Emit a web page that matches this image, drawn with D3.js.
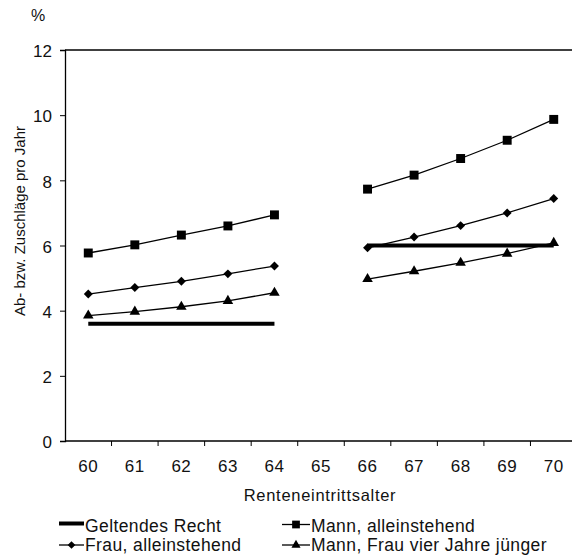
<!DOCTYPE html>
<html lang="de">
<head>
  <meta charset="UTF-8" />
  <title>Ab- bzw. Zuschläge pro Jahr</title>
  <script src="https://d3js.org/d3.v7.min.js"></script>
  <style>
    body { margin: 0; background: #fff; }
    svg { display: block; font-family: 'Liberation Sans', Arial, sans-serif; }
    .lbl { fill: #111; }
  </style>
</head>
<body>
<svg width="572" height="556"></svg>
<script>
// Renteneintrittsalter (category axis)
const ages = ["60", "61", "62", "63", "64", "65", "66", "67", "68", "69", "70"];
const yTicks = [0, 2, 4, 6, 8, 10, 12];

// left segment ages 60-64, right segment 66-70
const leftAges = ["60", "61", "62", "63", "64"];
const rightAges = ["66", "67", "68", "69", "70"];

const geltendLeft = [3.6, 3.6, 3.6, 3.6, 3.6];
const geltendRight = [6.0, 6.0, 6.0, 6.0, 6.0];
const mannLeft = [5.77, 6.02, 6.32, 6.6, 6.94];
const mannRight = [7.73, 8.16, 8.67, 9.23, 9.87];
const frauLeft = [4.51, 4.71, 4.9, 5.13, 5.37];
const frauRight = [5.93, 6.26, 6.61, 7.0, 7.44];
const paarLeft = [3.85, 3.97, 4.12, 4.3, 4.55];
const paarRight = [4.97, 5.21, 5.47, 5.75, 6.08];

const svg = d3.select("svg");
const pL = 65, pT = 50, pB = 441, pR = 577;

const x = d3.scaleBand().domain(ages).range([pL, pR]);
const cx = a => x(a) + x.bandwidth() / 2;
const y = d3.scaleLinear().domain([0, 12]).range([pB, pT]);

// frame: top line + axes
svg.append("line")
  .attr("x1", pL).attr("x2", 572)
  .attr("y1", pT).attr("y2", pT)
  .attr("stroke", "#000").attr("stroke-width", 1.3);

const yAxis = svg.append("g")
  .attr("transform", `translate(${pL},0)`)
  .call(d3.axisLeft(y).tickValues(yTicks).tickSize(5).tickPadding(8));
yAxis.attr("font-size", 17).attr("font-family", null);
yAxis.select(".domain").attr("stroke-width", 1.3);
yAxis.selectAll(".tick text").attr("fill", "#111").attr("dy", "0.4em");

const xAxis = svg.append("g")
  .attr("transform", `translate(0,${pB})`)
  .call(d3.axisBottom(x).tickSize(0).tickPadding(19));
xAxis.attr("font-size", 17).attr("font-family", null);
xAxis.selectAll(".tick text").attr("fill", "#111").attr("letter-spacing", "0.5px");
xAxis.select(".domain").attr("d", `M${pL},0H${pR}`).attr("stroke-width", 1.3);
// tick marks at category boundaries
xAxis.selectAll("line.sep")
  .data(ages)
  .enter().append("line")
  .attr("class", "sep")
  .attr("x1", d => x(d) + x.bandwidth())
  .attr("x2", d => x(d) + x.bandwidth())
  .attr("y1", 0).attr("y2", 5)
  .attr("stroke", "#000");

// labels
svg.append("text").attr("class", "lbl").attr("x", 31).attr("y", 21)
  .style("font-size", "16px").text("%");
svg.append("text").attr("class", "lbl")
  .attr("transform", `translate(25,221) rotate(-90)`)
  .style("font-size", "15px")
  .attr("text-anchor", "middle").text("Ab- bzw. Zuschläge pro Jahr");
svg.append("text").attr("class", "lbl")
  .attr("x", 320).attr("y", 501)
  .style("font-size", "16.5px").style("letter-spacing", "0.7px")
  .attr("text-anchor", "middle").text("Renteneintrittsalter");

const line = d3.line().x(d => cx(d[0])).y(d => y(d[1]));
const zip = (a, v) => a.map((k, i) => [k, v[i]]);

const markers = {
  square: { type: d3.symbolSquare, size: 80, rot: 0 },
  diamond: { type: d3.symbolSquare, size: 40, rot: 45 },
  triangle: { type: d3.symbolTriangle, size: 48, rot: 0 }
};
const symPath = (m, scale) => d3.symbol().type(m.type).size(m.size * scale)();

function series(vals, m, width) {
  [zip(leftAges, vals[0]), zip(rightAges, vals[1])].forEach(pts => {
    svg.append("path").attr("d", line(pts))
      .attr("fill", "none").attr("stroke", "#000").attr("stroke-width", width);
    if (m) {
      svg.selectAll(null).data(pts).enter().append("path")
        .attr("d", symPath(m, 1))
        .attr("transform", d => `translate(${cx(d[0])},${y(d[1])}) rotate(${m.rot})`)
        .attr("fill", "#000");
    }
  });
}

series([geltendLeft, geltendRight], null, 4);
series([mannLeft, mannRight], markers.square, 1.3);
series([frauLeft, frauRight], markers.diamond, 1.3);
series([paarLeft, paarRight], markers.triangle, 1.3);

// legend
const legend = [
  { name: "Geltendes Recht", m: null, w: 4, x: 59, len: 25, y: 523.5, base: 531.5 },
  { name: "Mann, alleinstehend", m: markers.square, w: 1.3, x: 282, len: 28, y: 524.5, base: 531.5 },
  { name: "Frau, alleinstehend", m: markers.diamond, w: 1.3, x: 59, len: 25, y: 545, base: 550.5 },
  { name: "Mann, Frau vier Jahre jünger", m: markers.triangle, w: 1.3, x: 282, len: 28, y: 545, base: 550.5 }
];
legend.forEach(l => {
  svg.append("line").attr("x1", l.x).attr("x2", l.x + l.len)
    .attr("y1", l.y).attr("y2", l.y)
    .attr("stroke", "#000").attr("stroke-width", l.w);
  if (l.m) {
    svg.append("path").attr("d", symPath(l.m, 0.75))
      .attr("transform", `translate(${l.x + l.len / 2},${l.y}) rotate(${l.m.rot})`)
      .attr("fill", "#000");
  }
  svg.append("text").attr("class", "lbl").attr("x", l.x + l.len + 1).attr("y", l.base)
    .style("font-size", "17.5px").style("letter-spacing", "0.4px").text(l.name);
});
</script>
</body>
</html>
